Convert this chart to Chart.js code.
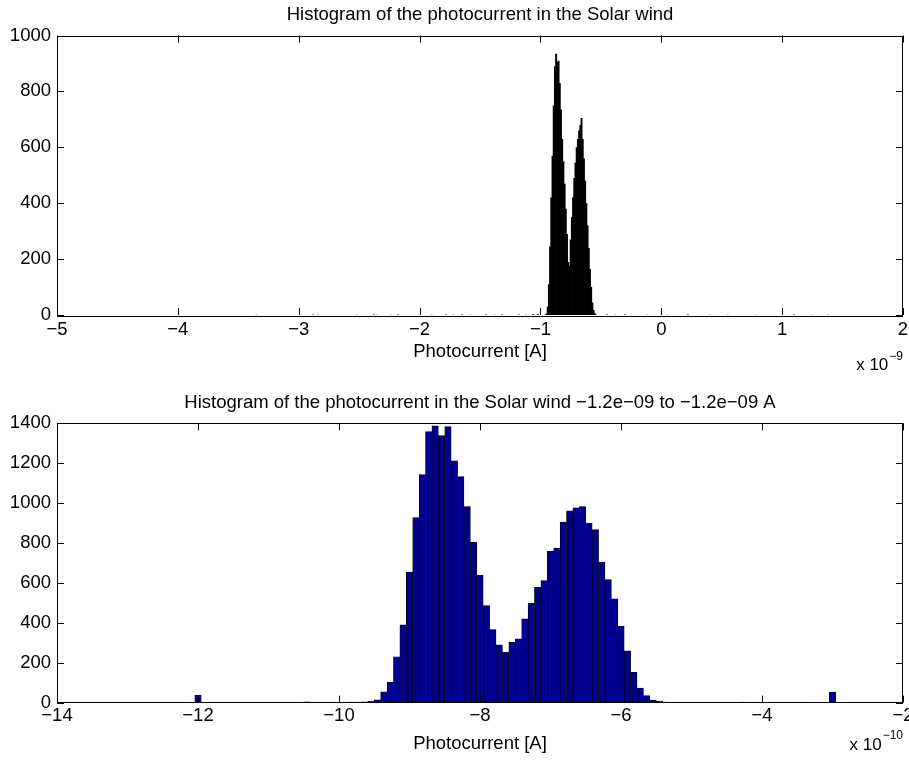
<!DOCTYPE html>
<html>
<head>
<meta charset="utf-8">
<title>Photocurrent histograms</title>
<script src="https://cdn.jsdelivr.net/npm/chart.js@4.4.1/dist/chart.umd.min.js"></script>
<style>
  html, body { margin: 0; padding: 0; background: #fff; }
  #wrap { position: relative; width: 909px; height: 762px; }
  canvas { position: absolute; left: 0; }
  #topChart { top: 0; }
  #bottomChart { top: 380px; }
</style>
</head>
<body>
<div id="wrap">
  <canvas id="topChart" width="909" height="380"></canvas>
  <canvas id="bottomChart" width="909" height="382"></canvas>
</div>
<script>
/* ============================================
   Top panel - whole range, x in units of 1e-9 A
   ============================================ */
const topBinX = [-0.95, -0.94, -0.93, -0.92, -0.91, -0.90, -0.89, -0.88, -0.87, -0.86,
  -0.85, -0.84, -0.83, -0.82, -0.81, -0.80, -0.79, -0.78, -0.77, -0.76,
  -0.75, -0.74, -0.73, -0.72, -0.71, -0.70, -0.69, -0.68, -0.67, -0.66,
  -0.65, -0.64, -0.63, -0.62, -0.61, -0.60, -0.59, -0.58, -0.57, -0.56, -0.55, -0.54];
const topCounts = [5, 30, 110, 245, 420, 570, 750, 890, 935, 905,
  910, 830, 735, 630, 550, 470, 380, 290, 190, 175,
  270, 350, 420, 490, 545, 600, 630, 660, 680, 705,
  630, 560, 480, 400, 320, 240, 165, 100, 45, 18, 6, 2];
// scattered single counts away from the peaks
const topNoiseX = [-3.35, -2.88, -2.84, -2.52, -2.38, -2.35, -2.24, -2.18, -1.90, -1.78,
  -1.72, -1.65, -1.58, -1.45, -1.38, -1.32, -1.18, -1.12, -1.06, -1.02,
  -0.45, -0.38, -0.30, -0.12, 0.05, 0.22, 0.40, 0.55, 0.78, 1.10, 1.25, 1.38];
const topNoiseCounts = [1, 2, 1, 1, 2, 1, 1, 2, 1, 2,
  1, 2, 1, 2, 1, 2, 2, 1, 3, 3,
  2, 1, 2, 1, 1, 2, 1, 1, 1, 2, 1, 1];
const topXTicks = [-5, -4, -3, -2, -1, 0, 1, 2];
const topYTicks = [0, 200, 400, 600, 800, 1000];

/* ============================================
   Bottom panel - 100 bins from -12e-10 to -3e-10
   ============================================ */
const zoomLo = -12;
const zoomHi = -3;
const zoomCounts = [
  38, 0, 2, 2, 1, 0, 1, 2, 1, 1,
  1, 0, 2, 1, 1, 1, 1, 4, 1, 2,
  1, 2, 1, 2, 3, 3, 4, 8, 15, 55,
  102, 230, 390, 655, 928, 1143, 1358, 1387, 1338, 1383,
  1212, 1133, 983, 803, 638, 487, 367, 290, 253, 303,
  320, 420, 498, 578, 612, 758, 775, 905, 962, 977,
  983, 900, 867, 705, 617, 520, 383, 260, 152, 73,
  36, 13, 8, 3, 2, 2, 1, 2, 1, 1,
  2, 1, 1, 2, 1, 3, 1, 1, 0, 1,
  1, 1, 2, 1, 1, 1, 0, 1, 0, 53];
const bottomXTicks = [-14, -12, -10, -8, -6, -4, -2];
const bottomYTicks = [0, 200, 400, 600, 800, 1000, 1200, 1400];

const FONT = 'Liberation Sans, Arial, Helvetica, sans-serif';
const minus = v => String(v).replace('-', '\u2212');

// MATLAB-like box: full frame, inward ticks on all four sides, "x 10^n" note
const boxTicks = {
  id: 'boxTicks',
  afterDatasetsDraw(chart, args, opts) {
    const { ctx, chartArea: a, scales: { x, y } } = chart;
    const len = 7;
    ctx.save();
    ctx.strokeStyle = '#000';
    ctx.lineWidth = 1;
    ctx.beginPath();
    x.ticks.forEach(t => {
      const px = Math.round(x.getPixelForValue(t.value)) + 0.5;
      ctx.moveTo(px, a.bottom); ctx.lineTo(px, a.bottom - len);
      ctx.moveTo(px, a.top); ctx.lineTo(px, a.top + len);
    });
    y.ticks.forEach(t => {
      const py = Math.round(y.getPixelForValue(t.value)) + 0.5;
      ctx.moveTo(a.left, py); ctx.lineTo(a.left + len, py);
      ctx.moveTo(a.right, py); ctx.lineTo(a.right - len, py);
    });
    ctx.stroke();
    ctx.strokeRect(Math.round(a.left) + 0.5, Math.round(a.top) + 0.5,
      Math.round(a.right - a.left) - 1, Math.round(a.bottom - a.top));

    // exponent note under the right end of the x axis
    ctx.fillStyle = '#000';
    ctx.textBaseline = 'alphabetic';
    ctx.textAlign = 'right';
    ctx.font = '12px ' + FONT;
    const supW = ctx.measureText(opts.exponent).width;
    ctx.fillText(opts.exponent, a.right, a.bottom + opts.supDrop);
    ctx.font = '17px ' + FONT;
    ctx.fillText('x 10', a.right - supW - 1, a.bottom + opts.baseDrop);
    ctx.restore();
  }
};

function makeHist(canvasId, cfg) {
  return new Chart(document.getElementById(canvasId), {
    type: 'bar',
    data: {
      datasets: [{
        data: cfg.points,
        backgroundColor: cfg.fill,
        borderColor: '#000',
        borderWidth: cfg.border,
        borderSkipped: false,
        barPercentage: cfg.barPct,
        categoryPercentage: 1
      }]
    },
    options: {
      responsive: false,
      animation: false,
      devicePixelRatio: 1,
      layout: { padding: { left: 0, right: 6, top: 0, bottom: 0 } },
      plugins: {
        legend: { display: false },
        tooltip: { enabled: false },
        title: {
          display: true, text: cfg.title, color: '#000', fullSize: false,
          font: { family: FONT, size: 18.5, weight: 'normal', lineHeight: 1.2 },
          padding: cfg.titlePad
        },
        boxTicks: { exponent: cfg.exponent, supDrop: cfg.supDrop, baseDrop: cfg.baseDrop }
      },
      scales: {
        x: {
          type: 'linear', min: cfg.xTicks[0], max: cfg.xTicks[cfg.xTicks.length - 1],
          offset: false,
          grid: { display: false, drawTicks: false, offset: false },
          border: { display: false },
          afterBuildTicks: s => { s.ticks = cfg.xTicks.map(v => ({ value: v })); },
          afterFit: s => { s.height = cfg.xAxisH; s.paddingLeft = 0; s.paddingRight = 0; },
          ticks: {
            autoSkip: false, maxRotation: 0, color: '#000', padding: cfg.xTickPad,
            font: { family: FONT, size: 18.5 }, callback: minus
          },
          title: {
            display: true, text: 'Photocurrent [A]', color: '#000',
            font: { family: FONT, size: 18.5, lineHeight: 1.2 },
            padding: { top: 0, bottom: cfg.xTitlePad }
          }
        },
        y: {
          min: cfg.yTicks[0], max: cfg.yTicks[cfg.yTicks.length - 1],
          grid: { display: false, drawTicks: false },
          border: { display: false },
          afterBuildTicks: s => { s.ticks = cfg.yTicks.map(v => ({ value: v })); },
          afterFit: s => { s.width = 57; },
          ticks: {
            autoSkip: false, color: '#000', padding: 6,
            font: { family: FONT, size: 18.5 }, callback: minus
          }
        }
      }
    },
    plugins: [boxTicks]
  });
}

const topPoints = topBinX.map((x, i) => ({ x, y: topCounts[i] }))
  .concat(topNoiseX.map((x, i) => ({ x, y: topNoiseCounts[i] })));

const zoomStep = (zoomHi - zoomLo) / (zoomCounts.length - 1);
const zoomPoints = zoomCounts.map((c, i) => ({ x: zoomLo + i * zoomStep, y: c }));

makeHist('topChart', {
  points: topPoints, fill: '#000', border: 0, barPct: 1.6,
  title: 'Histogram of the photocurrent in the Solar wind',
  titlePad: { top: 4, bottom: 9.3 },
  xTicks: topXTicks, yTicks: topYTicks,
  xAxisH: 65, xTickPad: 4, xTitlePad: 17,
  exponent: '\u22129', supDrop: 45, baseDrop: 55
});

makeHist('bottomChart', {
  points: zoomPoints, fill: '#00008f', border: 0.7, barPct: 1,
  title: 'Histogram of the photocurrent in the Solar wind \u22121.2e\u221209 to \u22121.2e\u221209 A',
  titlePad: { top: 12.2, bottom: 8.9 },
  xTicks: bottomXTicks, yTicks: bottomYTicks,
  xAxisH: 59.3, xTickPad: 2, xTitlePad: 7,
  exponent: '\u221210', supDrop: 36, baseDrop: 47
});
</script>
</body>
</html>
